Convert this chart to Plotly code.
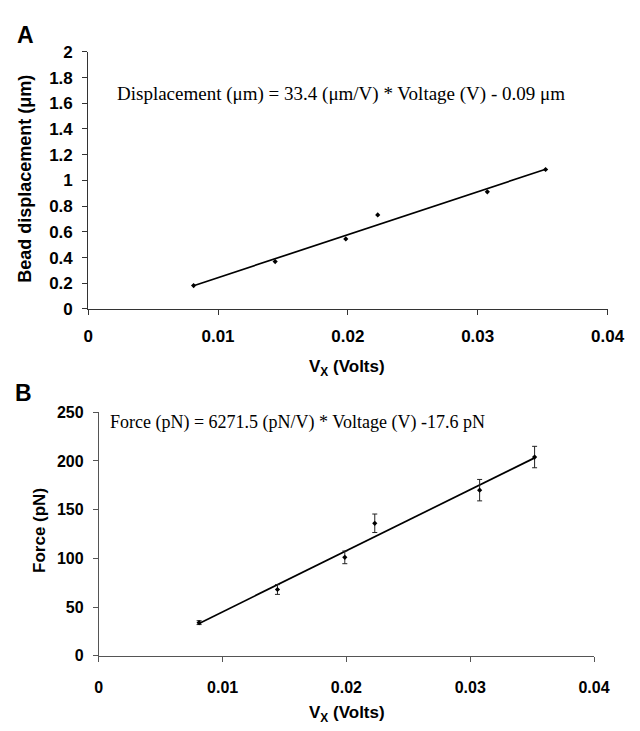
import plotly.graph_objects as go

# Panel A data
volts_a = [0.00812, 0.01440, 0.01984, 0.02230, 0.03074, 0.03523]
disp_a = [0.182, 0.369, 0.545, 0.732, 0.911, 1.085]
slope_a, icpt_a = 33.4, -0.09

# Panel B data
volts_b = [0.00810, 0.01443, 0.01987, 0.02229, 0.03076, 0.03520]
force_b = [34, 68, 101, 136, 170, 204]
err_b = [2, 5, 6.5, 9.5, 11, 11]
slope_b, icpt_b = 6271.5, -17.6

yticks_a = [round(i * 0.2, 1) for i in range(11)]
yticks_a_txt = ["0", "0.2", "0.4", "0.6", "0.8", "1", "1.2", "1.4", "1.6", "1.8", "2"]
xticks = [0, 0.01, 0.02, 0.03, 0.04]
xticks_txt = ["0", "0.01", "0.02", "0.03", "0.04"]
yticks_b = [0, 50, 100, 150, 200, 250]

W, H = 640, 731
fig = go.Figure()

fit_xa = [min(volts_a), max(volts_a)]
fig.add_trace(go.Scatter(x=fit_xa, y=[slope_a * v + icpt_a for v in fit_xa], mode="lines",
                         line=dict(color="black", width=1.7), xaxis="x", yaxis="y", showlegend=False))
fig.add_trace(go.Scatter(x=volts_a, y=disp_a, mode="markers",
                         marker=dict(symbol="diamond", size=4, color="black"),
                         xaxis="x", yaxis="y", showlegend=False))

fit_xb = [min(volts_b), max(volts_b)]
fig.add_trace(go.Scatter(x=fit_xb, y=[slope_b * v + icpt_b for v in fit_xb], mode="lines",
                         line=dict(color="black", width=1.7), xaxis="x2", yaxis="y2", showlegend=False))
fig.add_trace(go.Scatter(x=volts_b, y=force_b, mode="markers",
                         marker=dict(symbol="diamond", size=4, color="black"),
                         error_y=dict(type="data", array=err_b, color="#222", thickness=1, width=2.5),
                         xaxis="x2", yaxis="y2", showlegend=False))

tickfont_a = dict(family="Liberation Sans", size=17, color="black")
tickfont_b = dict(family="Liberation Sans", size=16, color="black")

def px(x):
    return x / W

def py(y):
    return 1 - y / H

axis_common = dict(showgrid=False, zeroline=False, showline=True, linewidth=1,
                   ticks="outside", ticklen=5, tickwidth=1, fixedrange=True)

fig.update_layout(
    width=W, height=H,
    margin=dict(l=0, r=0, t=0, b=0),
    paper_bgcolor="white", plot_bgcolor="white",
    xaxis=dict(domain=[px(86), px(623)], range=[0, 0.04], anchor="y",
               tickvals=xticks, ticktext=["<b>%s</b>" % t for t in xticks_txt],
               tickfont=tickfont_a, linecolor="#333", tickcolor="#333",
               ticklabelstandoff=7, **axis_common),
    yaxis=dict(domain=[py(308), py(44)], range=[0, 2], anchor="x",
               tickvals=yticks_a, ticktext=["<b>%s</b>" % t for t in yticks_a_txt],
               tickfont=tickfont_a, linecolor="#333", tickcolor="#333",
               ticklabelstandoff=6, **axis_common),
    xaxis2=dict(domain=[px(97), px(609)], range=[0, 0.04], anchor="y2",
                tickvals=xticks, ticktext=["<b>%s</b>" % t for t in xticks_txt],
                tickfont=tickfont_b, linecolor="#555", tickcolor="#555",
                ticklabelstandoff=12, **axis_common),
    yaxis2=dict(domain=[py(664), py(414)], range=[0, 250], anchor="x2",
                tickvals=yticks_b, ticktext=["<b>%d</b>" % t for t in yticks_b],
                tickfont=tickfont_b, linecolor="#555", tickcolor="#555",
                ticklabelstandoff=6, **axis_common),
)

ann = [
    dict(text="<b>A</b>", x=px(10), y=py(27), xanchor="left", yanchor="middle",
         font=dict(family="Liberation Sans", size=23, color="black")),
    dict(text="<b>B</b>", x=px(8), y=py(394), xanchor="left", yanchor="middle",
         font=dict(family="Liberation Sans", size=23, color="black")),
    dict(text="<b>Bead displacement (μm)</b>", x=px(21), y=py(174), textangle=-90,
         xanchor="center", yanchor="middle",
         font=dict(family="Liberation Sans", size=18, color="black")),
    dict(text="<b>V<sub>X</sub> (Volts)</b>", x=px(354), y=py(369), xanchor="center", yanchor="middle",
         font=dict(family="Liberation Sans", size=17, color="black")),
    dict(text="<b>Force (pN)</b>", x=px(35), y=py(535), textangle=-90,
         xanchor="center", yanchor="middle",
         font=dict(family="Liberation Sans", size=17, color="black")),
    dict(text="<b>V<sub>X</sub> (Volts)</b>", x=px(354), y=py(724), xanchor="center", yanchor="middle",
         font=dict(family="Liberation Sans", size=17, color="black")),
    dict(text="Displacement (μm) = 33.4 (μm/V) * Voltage (V) - 0.09 μm", x=px(114), y=py(87),
         xanchor="left", yanchor="middle",
         font=dict(family="Liberation Serif", size=19, color="black")),
    dict(text="Force (pN) = 6271.5 (pN/V) * Voltage (V) -17.6 pN", x=px(106), y=py(425),
         xanchor="left", yanchor="middle",
         font=dict(family="Liberation Serif", size=18, color="black")),
]
for a in ann:
    a.update(xref="paper", yref="paper", showarrow=False)
fig.update_layout(annotations=ann)

fig.write_html("out.html")
